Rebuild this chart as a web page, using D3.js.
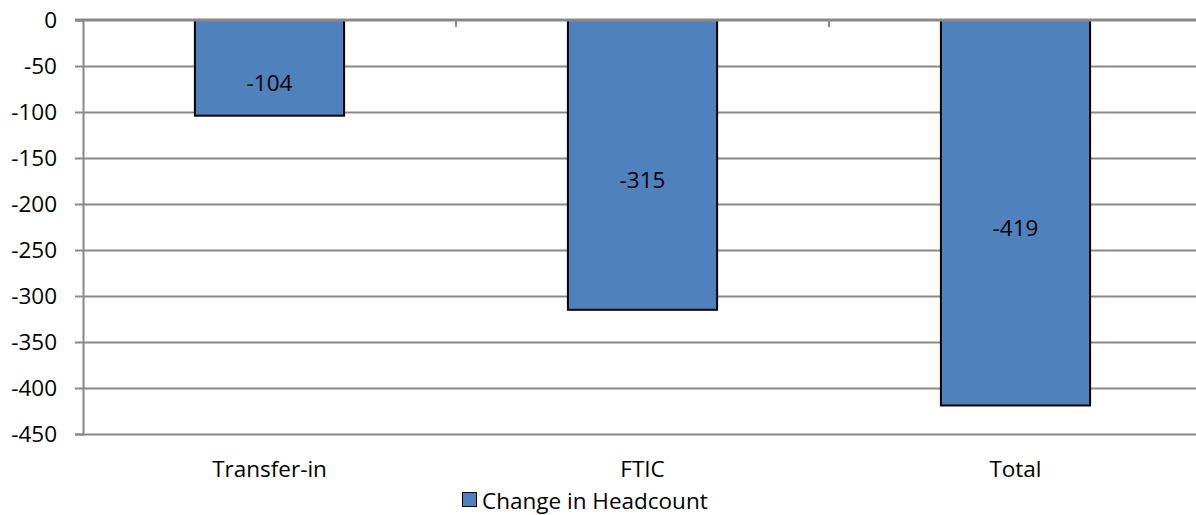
<!DOCTYPE html>
<html>
<head>
<meta charset="utf-8">
<script src="https://cdn.jsdelivr.net/npm/d3@7"></script>
<style>
  html, body { margin: 0; padding: 0; background: #fff; }
  svg { display: block; }
  text { font-family: "Open Sans", "Lato", sans-serif; fill: #000; }
</style>
</head>
<body>
<svg id="chart" width="1196" height="515"></svg>
<script>
const categories = ["Transfer-in", "FTIC", "Total"];
const values = [-104, -315, -419];
const yTicks = [0, -50, -100, -150, -200, -250, -300, -350, -400, -450];
const seriesName = "Change in Headcount";

const W = 1196, H = 515;
const margin = { left: 83, right: -6, top: 20, bottom: 81 };
const svg = d3.select("#chart");

const x = d3.scaleBand()
  .domain(categories)
  .range([margin.left, W - margin.right])
  .paddingInner(0)
  .paddingOuter(0);

const y = d3.scaleLinear()
  .domain([0, -450])
  .range([margin.top, H - margin.bottom]);

const gridColor = "#898989";
const fontSize = 22.5;

// gridlines
svg.append("g")
  .selectAll("line")
  .data(yTicks.filter(d => d !== 0))
  .join("line")
  .attr("x1", margin.left)
  .attr("x2", W)
  .attr("y1", d => Math.round(y(d)) + 0.5)
  .attr("y2", d => Math.round(y(d)) + 0.5)
  .attr("stroke", gridColor)
  .attr("stroke-width", 2);

// y axis
const yAxis = d3.axisLeft(y)
  .tickValues(yTicks)
  .tickSize(8)
  .tickPadding(18)
  .tickFormat(d => d3.format("d")(d).replace("−", "-"));

const gy = svg.append("g")
  .attr("transform", `translate(${margin.left},0)`)
  .call(yAxis);
gy.select(".domain").attr("stroke", gridColor).attr("stroke-width", 2);
gy.selectAll(".tick line").attr("stroke", gridColor).attr("stroke-width", 2);
gy.selectAll(".tick text")
  .style("font-size", fontSize + "px")
  .style("font-family", "'Open Sans', sans-serif")
  .attr("fill", "#000");

// bars
const barW = x.bandwidth() * 0.4;
svg.append("g")
  .selectAll("rect")
  .data(categories.map((c, i) => ({ c, v: values[i] })))
  .join("rect")
  .attr("x", d => x(d.c) + (x.bandwidth() - barW) / 2)
  .attr("y", d => y(0))
  .attr("width", barW)
  .attr("height", d => y(d.v) - y(0))
  .attr("fill", "#4F81BD")
  .attr("stroke", "#000")
  .attr("stroke-width", 2);

// x axis at zero (ticks pointing down into plot at category boundaries)
const gx = svg.append("g");
gx.append("line")
  .attr("x1", margin.left - 8)
  .attr("x2", W)
  .attr("y1", y(0))
  .attr("y2", y(0))
  .attr("stroke", gridColor)
  .attr("stroke-width", 3);
gx.selectAll("line.bt")
  .data(categories.slice(1))
  .join("line")
  .attr("class", "bt")
  .attr("x1", d => x(d))
  .attr("x2", d => x(d))
  .attr("y1", y(0))
  .attr("y2", y(0) + 7)
  .attr("stroke", gridColor)
  .attr("stroke-width", 2);

// value labels
svg.append("g")
  .selectAll("text")
  .data(categories.map((c, i) => ({ c, v: values[i] })))
  .join("text")
  .attr("x", d => x(d.c) + x.bandwidth() / 2)
  .attr("y", d => (y(0) + y(d.v)) / 2 + 15)
  .attr("text-anchor", "middle")
  .attr("dominant-baseline", "central")
  .style("font-size", fontSize + "px")
  .text(d => d.v);

// category labels
svg.append("g")
  .selectAll("text")
  .data(categories)
  .join("text")
  .attr("x", d => x(d) + x.bandwidth() / 2)
  .attr("y", 468)
  .attr("text-anchor", "middle")
  .attr("dominant-baseline", "central")
  .style("font-size", fontSize + "px")
  .text(d => d);

// legend
const lg = svg.append("g");
lg.append("rect")
  .attr("x", 462.5).attr("y", 492.5)
  .attr("width", 14).attr("height", 14)
  .attr("fill", "#4F81BD")
  .attr("stroke", "#000")
  .attr("stroke-width", 1);
lg.append("text")
  .attr("x", 482)
  .attr("y", 500)
  .attr("dominant-baseline", "central")
  .style("font-size", fontSize + "px")
  .text(seriesName);
</script>
</body>
</html>
